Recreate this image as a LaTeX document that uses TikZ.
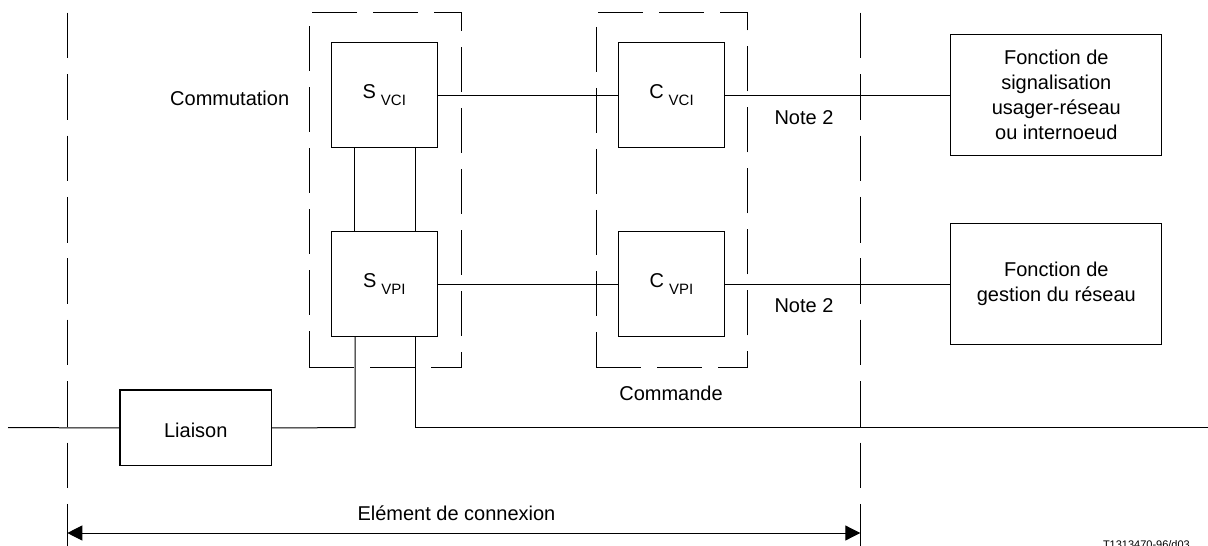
\documentclass[tikz,border=0pt]{standalone}
\usepackage{fontspec}
\setmainfont{Liberation Sans}
\usetikzlibrary{arrows.meta}
\newcommand\subx[2]{#1\hspace{5pt}\raisebox{-7pt}{\fontsize{15}{15}\selectfont #2}}
\begin{document}
\begin{tikzpicture}[x=1pt,y=-1pt,
  line width=1pt,
  every node/.style={font=\fontsize{20}{25}\selectfont, inner sep=0pt},
  blk/.style={draw, line width=1.1pt, minimum width=106pt, minimum height=105pt},
  fbox/.style={draw, line width=1.1pt, minimum width=211pt, minimum height=121pt, align=center},
  grp/.style={draw, dash pattern=on 45pt off 16pt, line width=1pt},
  bound/.style={draw, dash pattern=on 45.7pt off 15.7pt, line width=1pt},
  lbl/.style={anchor=base}]
\useasboundingbox (0,0) rectangle (1208,546);

% dashed groups
\node[grp, minimum width=151.7pt, minimum height=354.3pt] (grpS) at (385.15,189.85) {};
\node[grp, minimum width=151.3pt, minimum height=354.3pt] (grpC) at (671.65,189.85) {};

% boundaries
\coordinate (bl1) at (67.3,12.7);
\coordinate (bl2) at (67.3,546);
\coordinate (br1) at (860.3,12.7);
\coordinate (br2) at (860.3,546);
\draw[bound] (bl1) -- (bl2);
\draw[bound] (br1) -- (br2);

% blocks
\node[blk] (svci) at (384.3,95.2) {\subx{S}{VCI}};
\node[blk] (svpi) at (384.3,284) {\subx{S}{VPI}};
\node[blk] (cvci) at (671.5,95.2) {\subx{C}{VCI}};
\node[blk] (cvpi) at (671.5,284) {\subx{C}{VPI}};
\node[fbox] (f1) at (1056.3,95.2) {Fonction de\\signalisation\\usager-réseau\\ou internoeud};
\node[fbox] (f2) at (1056.3,283.8) {Fonction de\\gestion du réseau};
\node[draw, line width=1.1pt, minimum width=151.7pt, minimum height=75.7pt] (liaison) at (195.8,427.8) {};

% labels
\node[lbl] (tcomm) at (229.7,105) {Commutation};
\node[lbl] (tcmd) at (671,400) {Commande};
\node[lbl] (tlia) at (195.8,437.3) {Liaison};
\node[lbl] (n1) at (804,124.3) {Note 2};
\node[lbl] (n2) at (804,312.7) {Note 2};
\node[anchor=base west] (tel) at (357,520) {Elément de connexion};
\node[anchor=north west, font=\fontsize{11}{11}\selectfont] (fig) at (1102.5,540.5) {T1313470-96/d03};

% connectors
\draw (svci.east) -- (cvci.west);
\draw (cvci.east) -- (f1.west |- cvci.east);
\draw (svpi.east) -- (cvpi.west);
\draw (cvpi.east) -- (f2.west |- cvpi.east);
\draw (svci.south -| 354.3,0) -- (svpi.north -| 354.3,0);
\draw (svci.south -| 415,0) -- (svpi.north -| 415,0);

\coordinate (lin) at (8,427.7);
\coordinate (rout) at (1208,427.7);
\coordinate (j1) at (355,427.7);
\coordinate (j2) at (415,427.7);
\draw (lin) -- (liaison.west);
\draw (liaison.east) -- (j1) -- (svpi.south -| j1);
\draw (svpi.south -| j2) -- (j2) -- (rout);

% dimension arrow
\coordinate (al) at (67.3,533);
\coordinate (ar) at (860.3,533);
\draw[{Triangle[length=15pt,width=15pt]}-{Triangle[length=15pt,width=15pt]}] (al) -- (ar);
\end{tikzpicture}
\end{document}
